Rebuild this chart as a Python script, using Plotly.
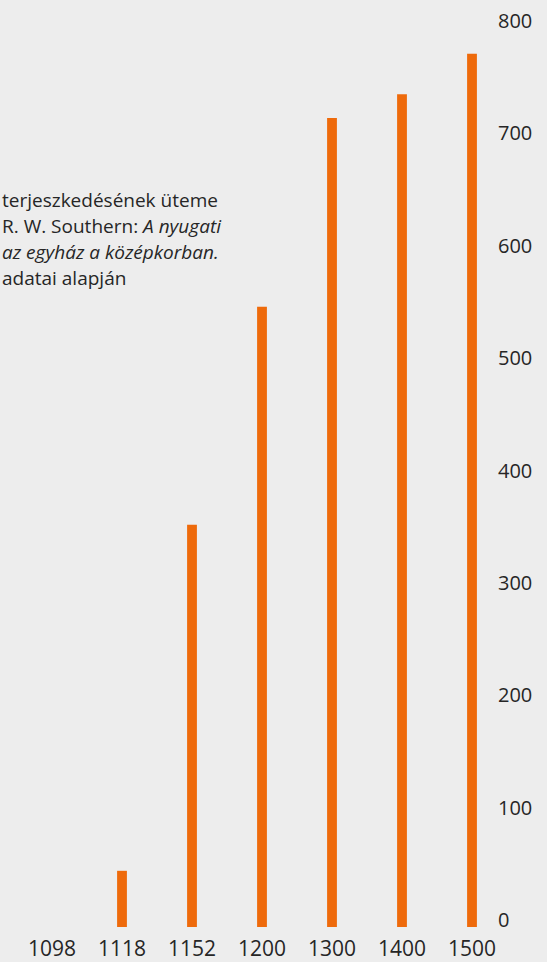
import plotly.graph_objects as go

years = ["1098", "1118", "1152", "1200", "1300", "1400", "1500"]
abbeys = [0, 50, 358, 552, 720, 741, 777]
y_ticks = [0, 100, 200, 300, 400, 500, 600, 700, 800]

note_lines = [
    "terjeszkedésének üteme",
    "R. W. Southern: <i>A nyugati</i>",
    "<i>az egyház a középkorban.</i>",
    "adatai alapján",
]

W, H = 547, 962
plot_left, plot_right = 0, 490
plot_top, plot_bottom = 28, 927

fig = go.Figure()
fig.add_trace(go.Bar(
    x=list(range(len(years))), y=abbeys,
    width=0.14,
    marker=dict(color="#EE6A0B", line=dict(width=0)),
    hoverinfo="x+y",
))

tick_family = "'Open Sans', sans-serif"
text_family = "'Open Sans', sans-serif"
text_col = "#262626"

annotations = []
first_baseline = 206
pitch = 26
for i, line in enumerate(note_lines):
    base = first_baseline + i * pitch
    annotations.append(dict(
        xref="paper", yref="paper", x=0,
        y=(plot_bottom - base) / (plot_bottom - plot_top),
        xanchor="left", yanchor="middle", align="left", showarrow=False,
        yshift=6,
        text=line,
        font=dict(size=19, family=text_family, color=text_col),
    ))

fig.update_layout(
    width=W, height=H,
    margin=dict(l=plot_left, r=W - plot_right, t=plot_top, b=H - plot_bottom, pad=0),
    paper_bgcolor="#EDEDED", plot_bgcolor="#EDEDED",
    showlegend=False,
    font=dict(family=text_family, color=text_col, size=19),
    xaxis=dict(
        range=[-52 / 70, -52 / 70 + plot_right / 70],
        tickmode="array", tickvals=list(range(len(years))), ticktext=years,
        showgrid=False, zeroline=False, showline=False, ticks="",
        tickfont=dict(size=21, family=tick_family, color=text_col),
        ticklabelstandoff=7,
        fixedrange=True,
    ),
    yaxis=dict(
        range=[0, 800], side="right",
        tickmode="array", tickvals=y_ticks,
        showgrid=False, zeroline=False, showline=False, ticks="",
        tickfont=dict(size=20, family=tick_family, color=text_col),
        ticklabelstandoff=7, ticklabelshift=-7,
        fixedrange=True,
    ),
    annotations=annotations,
)

fig.write_html("out.html")
